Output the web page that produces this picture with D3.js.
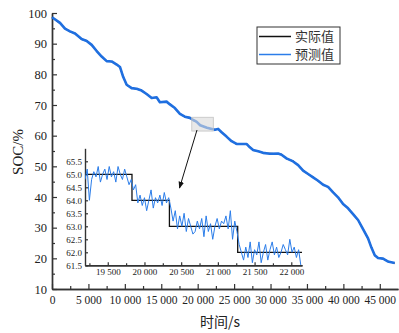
<!DOCTYPE html>
<html>
<head>
<meta charset="utf-8">
<script src="https://cdn.jsdelivr.net/npm/d3@7"></script>
<style>
  body { margin: 0; background: #fff; }
  svg { display: block; }
</style>
</head>
<body>
<svg id="chart" width="399" height="333"></svg>
<script>
// main curve: time (s) / SOC (%)
const mainTime = [0, 1100, 1780, 2470, 3160, 4070, 4760, 5450, 6130, 6820, 7500, 8190, 8880, 9330, 9780,
  10250, 10930, 11620, 12300, 12990, 13680, 14360, 14810, 15730, 16190, 16870, 17560, 18240, 18930, 19380,
  19830, 20340, 21270, 22360, 22810, 23280, 23960, 24650, 25340, 26020, 26710, 27160, 27610, 28300, 28980,
  29900, 31040, 31510, 32190, 33100, 33790, 34470, 35160, 35840, 36530, 37220, 37900, 38590, 39270, 39960,
  40650, 41330, 42020, 42700, 43390, 43850, 44310, 44760, 45450, 46090, 47050];
const mainActual = [98.7, 96.6, 95.0, 93.9, 93.4, 91.4, 91.0, 89.5, 87.7, 85.7, 84.4, 84.1, 83.3, 82.3, 79.2,
  76.5, 75.6, 75.2, 74.8, 73.5, 72.4, 72.4, 71.0, 71.0, 70.3, 68.9, 67.2, 66.1, 65.9, 65.0,
  64.5, 63.5, 62.5, 62.0, 62.1, 61.2, 59.6, 58.3, 57.2, 57.4, 57.2, 56.3, 55.2, 55.0, 54.3,
  54.2, 54.1, 53.9, 52.5, 51.7, 50.3, 48.7, 47.4, 46.5, 45.2, 44.1, 43.2, 41.6, 39.8, 37.8,
  36.2, 34.5, 32.4, 29.6, 26.4, 23.6, 20.9, 20.2, 19.8, 19.1, 18.4];
const mainPred = [98.6, 96.8, 94.9, 94.0, 93.3, 91.5, 90.9, 89.6, 87.6, 85.8, 84.3, 84.2, 83.2, 82.4, 79.1,
  76.6, 75.5, 75.3, 74.7, 73.6, 72.3, 72.5, 70.9, 71.1, 70.2, 69.0, 67.1, 66.2, 65.8, 65.1,
  64.6, 63.4, 62.6, 61.9, 62.2, 61.1, 59.7, 58.2, 57.3, 57.3, 57.3, 56.2, 55.3, 54.9, 54.4,
  54.1, 54.2, 53.8, 52.6, 51.6, 50.4, 48.6, 47.5, 46.4, 45.3, 44.0, 43.3, 41.5, 39.9, 37.7,
  36.3, 34.4, 32.5, 29.5, 26.5, 23.5, 21.0, 20.1, 19.9, 19.0, 18.5];

// inset: actual steps and predicted values sampled every 30 s from 19190 s
const stepTime = [19190, 19830, 20340, 21270, 22146];
const stepValue = [65, 64, 63, 62, 62];
const insetStart = 19190, insetStep = 30;
const insetPred = [
  64.8, 65.2, 64.0, 64.8, 65.1, 64.9, 65.3, 64.7, 65.0, 65.2, 64.8, 65.3, 64.9, 65.1, 64.7, 65.3, 65.0, 64.8, 65.2, 64.9, 64.6, 64.8,
  64.4, 64.6, 63.9, 64.2, 63.8, 64.1, 63.6, 64.0, 64.4, 63.7, 64.1, 63.9, 64.2, 63.8, 64.3, 63.9, 64.1,
  63.7, 63.2, 63.6, 62.9, 63.4, 63.0, 63.5, 62.8, 63.3, 63.0, 62.7, 62.8, 63.2, 62.9, 63.3, 62.6, 63.4, 62.8, 63.1, 62.5, 63.0, 63.3, 62.9, 63.2, 63.1, 63.4, 62.9, 63.6, 62.5, 63.2, 62.8,
  62.3, 62.0, 61.7, 62.2, 61.8, 62.4, 61.6, 62.1, 61.9, 62.4, 61.6, 62.0, 62.3, 61.7, 62.1, 62.4, 61.9, 62.2, 61.8, 62.0, 62.3, 62.1, 61.9, 62.5, 62.0, 62.2, 61.8, 62.1, 61.5];

const xTicks = [0, 5000, 10000, 15000, 20000, 25000, 30000, 35000, 40000, 45000];
const yTicks = [10, 20, 30, 40, 50, 60, 70, 80, 90, 100];
const insetXTicks = [19500, 20000, 20500, 21000, 21500, 22000];
const insetYTicks = [61.5, 62.0, 62.5, 63.0, 63.5, 64.0, 64.5, 65.0, 65.5];
const legendNames = ['实际值', '预测值'];

const black = '#111', blue = '#1f6fe0', lightBlue = '#2b7de9', axisCol = '#333';
const serif = "'Liberation Serif', 'Times New Roman', serif";
const svg = d3.select('#chart');
const loc = d3.formatLocale({decimal: '.', thousands: ' ', grouping: [3], currency: ['', '']});
const fmtK = loc.format(',d');

const x = d3.scaleLinear().domain([0, 47500]).range([52, 398]);
const y = d3.scaleLinear().domain([10, 100]).range([289, 13]);

function styleAxis(g, size) {
  g.attr('font-family', serif);
  g.select('.domain').attr('stroke', axisCol).attr('stroke-width', 1.4);
  g.selectAll('.tick line').attr('stroke', axisCol).attr('stroke-width', 1.2);
  g.selectAll('.tick text').style('font-family', serif).style('font-size', size + 'px').attr('fill', '#222');
}

// minor ticks first, then majors
const minorX = xTicks.map(d => d + 2500).filter(d => d < 47500);
svg.append('g').attr('transform', 'translate(0,289)')
  .call(d3.axisBottom(x).tickValues(minorX).tickSize(-3).tickSizeOuter(0).tickFormat(''))
  .call(g => styleAxis(g, 11));
svg.append('g').attr('transform', 'translate(0,289)')
  .call(d3.axisBottom(x).tickValues(xTicks).tickSize(-5).tickSizeOuter(0).tickPadding(7).tickFormat(d => fmtK(d)))
  .call(g => styleAxis(g, 11.5));
const minorY = yTicks.map(d => d + 5).filter(d => d < 100);
svg.append('g').attr('transform', 'translate(52,0)')
  .call(d3.axisLeft(y).tickValues(minorY).tickSize(-3).tickSizeOuter(0).tickFormat(''))
  .call(g => styleAxis(g, 12));
svg.append('g').attr('transform', 'translate(52,0)')
  .call(d3.axisLeft(y).tickValues(yTicks).tickSize(-5).tickSizeOuter(0).tickPadding(5))
  .call(g => styleAxis(g, 12.5));

// axis titles
svg.append('text').attr('transform', 'translate(23,152) rotate(-90)')
  .attr('text-anchor', 'middle')
  .style('font-family', serif).style('font-size', '15px').attr('fill', '#222')
  .text('SOC/%');
svg.append('text').attr('x', 220).attr('y', 327).attr('text-anchor', 'middle')
  .style('font-family', "'Noto Sans CJK SC', sans-serif").style('font-size', '14px').attr('fill', '#222')
  .text('时间/s');

// main curves
const mainLine = (vals) => d3.line().x((d, i) => x(mainTime[i])).y(d => y(d))(vals);
svg.append('path').attr('d', mainLine(mainActual)).attr('fill', 'none').attr('stroke', black).attr('stroke-width', 1.2);
svg.append('path').attr('d', mainLine(mainPred)).attr('fill', 'none').attr('stroke', blue).attr('stroke-width', 2.6)
  .attr('stroke-linejoin', 'round');

// highlight box of the zoomed region
const xi = d3.scaleLinear().domain([19190, 22146]).range([85, 302]);
const yi = d3.scaleLinear().domain([61.5, 66]).range([265.3, 148.3]);
svg.append('rect')
  .attr('x', x(xi.domain()[0])).attr('y', y(yi.domain()[1]))
  .attr('width', x(xi.domain()[1]) - x(xi.domain()[0]))
  .attr('height', y(yi.domain()[0]) - y(yi.domain()[1]))
  .attr('fill', '#d9d9d9').attr('fill-opacity', 0.6).attr('stroke', '#c4c4c4').attr('stroke-width', 0.8);

// arrow
svg.append('defs').append('marker').attr('id', 'arr')
  .attr('viewBox', '0 0 10 10').attr('refX', 9).attr('refY', 5)
  .attr('markerWidth', 7).attr('markerHeight', 7).attr('orient', 'auto')
  .append('path').attr('d', 'M0,1 L10,5 L0,9 Z').attr('fill', black);
svg.append('line').attr('x1', 197).attr('y1', 130).attr('x2', 179.5).attr('y2', 188)
  .attr('stroke', black).attr('stroke-width', 1).attr('marker-end', 'url(#arr)');

// inset
const inset = svg.append('g');
inset.append('clipPath').attr('id', 'insetClip').append('rect')
  .attr('x', 85).attr('y', 148.3).attr('width', 217).attr('height', 117);
const minorIX = insetXTicks.map(d => d - 250).concat([22250]).filter(d => d > 19190 && d < 22146);
inset.append('g').attr('transform', 'translate(0,265.3)')
  .call(d3.axisBottom(xi).tickValues(minorIX).tickSize(-2).tickSizeOuter(0).tickFormat(''))
  .call(g => styleAxis(g, 9));
inset.append('g').attr('transform', 'translate(0,265.3)')
  .call(d3.axisBottom(xi).tickValues(insetXTicks).tickSize(-3).tickSizeOuter(0).tickPadding(3).tickFormat(d => fmtK(d)))
  .call(g => styleAxis(g, 9));
inset.append('g').attr('transform', 'translate(85,0)')
  .call(d3.axisLeft(yi).tickValues(insetYTicks).tickSize(-3).tickSizeOuter(0).tickPadding(3).tickFormat(d3.format('.1f')))
  .call(g => styleAxis(g, 9));

const plot = inset.append('g').attr('clip-path', 'url(#insetClip)');
plot.append('path')
  .attr('d', d3.line().curve(d3.curveStepAfter).x((d, i) => xi(stepTime[i])).y(d => yi(d))(stepValue))
  .attr('fill', 'none').attr('stroke', black).attr('stroke-width', 1.3);
plot.append('path')
  .attr('d', d3.line().x((d, i) => xi(insetStart + i * insetStep)).y(d => yi(d))(insetPred))
  .attr('fill', 'none').attr('stroke', lightBlue).attr('stroke-width', 1);

// legend
const lg = svg.append('g');
lg.append('rect').attr('x', 257).attr('y', 27).attr('width', 83).attr('height', 37)
  .attr('fill', '#fff').attr('stroke', '#333').attr('stroke-width', 1);
[black, lightBlue].forEach((c, i) => {
  const yy = 36.5 + i * 18;
  lg.append('line').attr('x1', 259).attr('x2', 291).attr('y1', yy).attr('y2', yy)
    .attr('stroke', c).attr('stroke-width', 1.5);
  lg.append('text').attr('x', 295).attr('y', yy + 4.5)
    .style('font-family', "'Noto Sans CJK SC', sans-serif").style('font-size', '13px').attr('fill', '#333')
    .text(legendNames[i]);
});
</script>
</body>
</html>
